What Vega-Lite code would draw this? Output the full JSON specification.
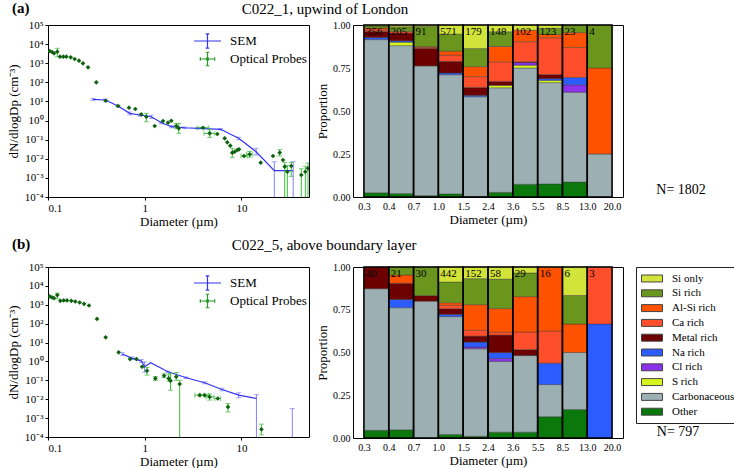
{
  "$schema": "https://vega.github.io/schema/vega-lite/v6.json",
  "padding": {"left": 6, "top": 0, "right": 0, "bottom": 0},
  "config": {
    "font": "Liberation Serif",
    "view": {"stroke": "black", "strokeWidth": 1},
    "title": {"font": "Liberation Serif", "fontSize": 15, "fontWeight": "normal", "color": "black"},
    "legend": {"labelFont": "Liberation Serif"}
  },
  "datasets": {
    "semA": [
      {"x": 0.292, "y": 12.9, "ylo": 11.5, "yhi": 14.5},
      {"x": 0.392, "y": 11.9, "ylo": 10.5, "yhi": 13.3},
      {"x": 0.529, "y": 5.77, "ylo": 5.2, "yhi": 6.4},
      {"x": 0.70, "y": 2.39, "ylo": 2.0, "yhi": 2.8},
      {"x": 0.887, "y": 1.95, "ylo": 1.7, "yhi": 2.2},
      {"x": 1.17, "y": 1.59, "ylo": 1.3, "yhi": 1.9},
      {"x": 1.49, "y": 0.77, "ylo": 0.68, "yhi": 0.86},
      {"x": 1.89, "y": 0.476, "ylo": 0.42, "yhi": 0.54},
      {"x": 2.58, "y": 0.42, "ylo": 0.38, "yhi": 0.46},
      {"x": 3.56, "y": 0.394, "ylo": 0.36, "yhi": 0.43},
      {"x": 6.1, "y": 0.348, "ylo": 0.32, "yhi": 0.38},
      {"x": 9.36, "y": 0.118, "ylo": 0.1, "yhi": 0.135},
      {"x": 14.2, "y": 0.0234, "ylo": 0.0157, "yhi": 0.0352},
      {"x": 21.9, "y": 0.00238, "ylo": 0.00005, "yhi": 0.007},
      {"x": 34.3, "y": 0.00238, "ylo": 0.00005, "yhi": 0.007}
    ],
    "optA": [
      {"x": 0.104, "y": 4360}, {"x": 0.110, "y": 3865}, {"x": 0.1154, "y": 3304},
      {"x": 0.1248, "y": 4000, "ylo": 2190, "yhi": 6040},
      {"x": 0.1331, "y": 2193}, {"x": 0.144, "y": 2193}, {"x": 0.1546, "y": 2193},
      {"x": 0.1717, "y": 2042}, {"x": 0.1888, "y": 1663}, {"x": 0.2092, "y": 1355},
      {"x": 0.230, "y": 990}, {"x": 0.2593, "y": 612}, {"x": 0.3158, "y": 100},
      {"x": 0.395, "y": 10.9}, {"x": 0.5297, "y": 5.77}, {"x": 0.688, "y": 4.70},
      {"x": 0.7995, "y": 4.02}, {"x": 0.922, "y": 2.12},
      {"x": 1.039, "y": 1.59, "ylo": 0.87, "yhi": 2.4},
      {"x": 1.269, "y": 0.519}, {"x": 1.546, "y": 0.946}, {"x": 1.742, "y": 0.771},
      {"x": 1.884, "y": 0.98},
      {"x": 2.122, "y": 0.519, "ylo": 0.38, "yhi": 0.70},
      {"x": 2.247, "y": 0.394, "ylo": 0.215, "yhi": 0.718},
      {"x": 4.008, "y": 0.42, "xlo": 3.5, "xhi": 4.6},
      {"x": 4.699, "y": 0.215, "ylo": 0.13, "yhi": 0.33, "xlo": 4.1, "xhi": 5.3},
      {"x": 5.634, "y": 0.198}, {"x": 6.72, "y": 0.118}, {"x": 7.147, "y": 0.0728},
      {"x": 7.674, "y": 0.0483},
      {"x": 8.05, "y": 0.0208, "ylo": 0.0118, "yhi": 0.0352},
      {"x": 8.53, "y": 0.0234}, {"x": 9.07, "y": 0.0288}, {"x": 9.44, "y": 0.0313},
      {"x": 10.64, "y": 0.01396, "xlo": 9.9, "xhi": 11.5},
      {"x": 12.19, "y": 0.01714, "xlo": 11.3, "xhi": 13.1, "ylo": 0.012, "yhi": 0.024},
      {"x": 15.83, "y": 0.00622}, {"x": 21.23, "y": 0.01396},
      {"x": 24.9, "y": 0.0208, "ylo": 0.014, "yhi": 0.03},
      {"x": 26.9, "y": 0.00863},
      {"x": 28.05, "y": 0.00385, "ylo": 0.00005, "yhi": 0.0065},
      {"x": 29.85, "y": 0.0021, "ylo": 0.00005, "yhi": 0.0045},
      {"x": 32.8, "y": 0.00419, "ylo": 0.0012, "yhi": 0.0065},
      {"x": 41.6, "y": 0.00142, "ylo": 0.00005, "yhi": 0.003},
      {"x": 45.8, "y": 0.0021, "ylo": 0.00005, "yhi": 0.004},
      {"x": 48.8, "y": 0.00317, "ylo": 0.00005, "yhi": 0.006}
    ],
    "semB": [
      {"x": 0.586, "y": 2.47, "ylo": 2.1, "yhi": 2.9},
      {"x": 0.745, "y": 1.46, "ylo": 1.25, "yhi": 1.7},
      {"x": 0.922, "y": 1.05, "ylo": 0.9, "yhi": 1.25},
      {"x": 0.998, "y": 0.525, "ylo": 0.27, "yhi": 0.95},
      {"x": 1.153, "y": 0.857},
      {"x": 1.74, "y": 0.284, "ylo": 0.26, "yhi": 0.31},
      {"x": 2.69, "y": 0.1366, "ylo": 0.125, "yhi": 0.15},
      {"x": 4.17, "y": 0.0741, "ylo": 0.066, "yhi": 0.083},
      {"x": 6.30, "y": 0.0328, "ylo": 0.028, "yhi": 0.038},
      {"x": 9.38, "y": 0.0164, "ylo": 0.012, "yhi": 0.022},
      {"x": 14.3, "y": 0.0109, "ylo": 0.00005, "yhi": 0.0176},
      {"x": 33.6, "ylo": 0.00005, "yhi": 0.0032}
    ],
    "optB": [
      {"x": 0.104, "y": 2760}, {"x": 0.110, "y": 2443}, {"x": 0.1154, "y": 2250},
      {"x": 0.1248, "y": 3250, "ylo": 2075, "yhi": 4150},
      {"x": 0.134, "y": 1626}, {"x": 0.1453, "y": 1692}, {"x": 0.1572, "y": 1692},
      {"x": 0.1742, "y": 1626}, {"x": 0.1915, "y": 1496}, {"x": 0.2126, "y": 1324},
      {"x": 0.2357, "y": 1125}, {"x": 0.2655, "y": 917}, {"x": 0.3212, "y": 179},
      {"x": 0.3947, "y": 19.0}, {"x": 0.5377, "y": 3.03}, {"x": 0.7056, "y": 1.34},
      {"x": 0.8214, "y": 1.34}, {"x": 0.939, "y": 0.525},
      {"x": 1.057, "y": 0.322, "ylo": 0.19, "yhi": 0.48},
      {"x": 1.289, "y": 0.126, "ylo": 0.10, "yhi": 0.16},
      {"x": 1.585, "y": 0.175, "ylo": 0.14, "yhi": 0.22},
      {"x": 1.77, "y": 0.126, "ylo": 0.09, "yhi": 0.2},
      {"x": 1.85, "y": 0.0946, "ylo": 0.03, "yhi": 0.23},
      {"x": 2.12, "y": 0.155, "ylo": 0.1, "yhi": 0.26},
      {"x": 2.30, "y": 0.063, "ylo": 0.00005, "yhi": 0.1},
      {"x": 3.70, "y": 0.0164, "xlo": 3.3, "xhi": 4.1},
      {"x": 4.17, "y": 0.0164, "xlo": 3.8, "xhi": 4.6},
      {"x": 4.69, "y": 0.0133, "ylo": 0.009, "yhi": 0.019, "xlo": 4.3, "xhi": 5.2},
      {"x": 5.70, "y": 0.0109, "xlo": 5.3, "xhi": 6.1},
      {"x": 7.26, "y": 0.0039, "ylo": 0.0021, "yhi": 0.0059},
      {"x": 16.1, "y": 0.000255, "ylo": 0.00013, "yhi": 0.00048}
    ],
    "barsA": [
      {"lo": 0.3, "hi": 0.4, "cat": "Other", "p": 0.025}, {"lo": 0.3, "hi": 0.4, "cat": "Carbonaceous", "p": 0.89}, {"lo": 0.3, "hi": 0.4, "cat": "Na rich", "p": 0.012}, {"lo": 0.3, "hi": 0.4, "cat": "Metal rich", "p": 0.035}, {"lo": 0.3, "hi": 0.4, "cat": "Ca rich", "p": 0.01}, {"lo": 0.3, "hi": 0.4, "cat": "Al-Si rich", "p": 0.01}, {"lo": 0.3, "hi": 0.4, "cat": "Si rich", "p": 0.012}, {"lo": 0.3, "hi": 0.4, "cat": "Si only", "p": 0.006},
      {"lo": 0.4, "hi": 0.7, "cat": "Other", "p": 0.02}, {"lo": 0.4, "hi": 0.7, "cat": "Carbonaceous", "p": 0.86}, {"lo": 0.4, "hi": 0.7, "cat": "S rich", "p": 0.02}, {"lo": 0.4, "hi": 0.7, "cat": "Na rich", "p": 0.008}, {"lo": 0.4, "hi": 0.7, "cat": "Metal rich", "p": 0.045}, {"lo": 0.4, "hi": 0.7, "cat": "Ca rich", "p": 0.01}, {"lo": 0.4, "hi": 0.7, "cat": "Si rich", "p": 0.027}, {"lo": 0.4, "hi": 0.7, "cat": "Si only", "p": 0.01},
      {"lo": 0.7, "hi": 1, "cat": "Other", "p": 0.008}, {"lo": 0.7, "hi": 1, "cat": "Carbonaceous", "p": 0.754}, {"lo": 0.7, "hi": 1, "cat": "Metal rich", "p": 0.102}, {"lo": 0.7, "hi": 1, "cat": "Ca rich", "p": 0.005}, {"lo": 0.7, "hi": 1, "cat": "Al-Si rich", "p": 0.006}, {"lo": 0.7, "hi": 1, "cat": "Si rich", "p": 0.117}, {"lo": 0.7, "hi": 1, "cat": "Si only", "p": 0.008},
      {"lo": 1, "hi": 1.5, "cat": "Other", "p": 0.018}, {"lo": 1, "hi": 1.5, "cat": "Carbonaceous", "p": 0.693}, {"lo": 1, "hi": 1.5, "cat": "Na rich", "p": 0.01}, {"lo": 1, "hi": 1.5, "cat": "Metal rich", "p": 0.068}, {"lo": 1, "hi": 1.5, "cat": "Ca rich", "p": 0.036}, {"lo": 1, "hi": 1.5, "cat": "Al-Si rich", "p": 0.023}, {"lo": 1, "hi": 1.5, "cat": "Si rich", "p": 0.099}, {"lo": 1, "hi": 1.5, "cat": "Si only", "p": 0.053},
      {"lo": 1.5, "hi": 2.4, "cat": "Other", "p": 0.003}, {"lo": 1.5, "hi": 2.4, "cat": "Carbonaceous", "p": 0.58}, {"lo": 1.5, "hi": 2.4, "cat": "Na rich", "p": 0.008}, {"lo": 1.5, "hi": 2.4, "cat": "Metal rich", "p": 0.046}, {"lo": 1.5, "hi": 2.4, "cat": "Ca rich", "p": 0.063}, {"lo": 1.5, "hi": 2.4, "cat": "Al-Si rich", "p": 0.058}, {"lo": 1.5, "hi": 2.4, "cat": "Si rich", "p": 0.105}, {"lo": 1.5, "hi": 2.4, "cat": "Si only", "p": 0.137},
      {"lo": 2.4, "hi": 3.6, "cat": "Other", "p": 0.027}, {"lo": 2.4, "hi": 3.6, "cat": "Carbonaceous", "p": 0.608}, {"lo": 2.4, "hi": 3.6, "cat": "S rich", "p": 0.014}, {"lo": 2.4, "hi": 3.6, "cat": "Metal rich", "p": 0.023}, {"lo": 2.4, "hi": 3.6, "cat": "Ca rich", "p": 0.114}, {"lo": 2.4, "hi": 3.6, "cat": "Al-Si rich", "p": 0.089}, {"lo": 2.4, "hi": 3.6, "cat": "Si rich", "p": 0.086}, {"lo": 2.4, "hi": 3.6, "cat": "Si only", "p": 0.039},
      {"lo": 3.6, "hi": 5.5, "cat": "Other", "p": 0.074}, {"lo": 3.6, "hi": 5.5, "cat": "Carbonaceous", "p": 0.676}, {"lo": 3.6, "hi": 5.5, "cat": "S rich", "p": 0.016}, {"lo": 3.6, "hi": 5.5, "cat": "Cl rich", "p": 0.016}, {"lo": 3.6, "hi": 5.5, "cat": "Metal rich", "p": 0.004}, {"lo": 3.6, "hi": 5.5, "cat": "Ca rich", "p": 0.117}, {"lo": 3.6, "hi": 5.5, "cat": "Al-Si rich", "p": 0.067}, {"lo": 3.6, "hi": 5.5, "cat": "Si only", "p": 0.03},
      {"lo": 5.5, "hi": 8.5, "cat": "Other", "p": 0.076}, {"lo": 5.5, "hi": 8.5, "cat": "Carbonaceous", "p": 0.589}, {"lo": 5.5, "hi": 8.5, "cat": "S rich", "p": 0.013}, {"lo": 5.5, "hi": 8.5, "cat": "Na rich", "p": 0.01}, {"lo": 5.5, "hi": 8.5, "cat": "Metal rich", "p": 0.024}, {"lo": 5.5, "hi": 8.5, "cat": "Ca rich", "p": 0.214}, {"lo": 5.5, "hi": 8.5, "cat": "Al-Si rich", "p": 0.019}, {"lo": 5.5, "hi": 8.5, "cat": "Si rich", "p": 0.036}, {"lo": 5.5, "hi": 8.5, "cat": "Si only", "p": 0.019},
      {"lo": 8.5, "hi": 13, "cat": "Other", "p": 0.087}, {"lo": 8.5, "hi": 13, "cat": "Carbonaceous", "p": 0.522}, {"lo": 8.5, "hi": 13, "cat": "Cl rich", "p": 0.043}, {"lo": 8.5, "hi": 13, "cat": "Na rich", "p": 0.043}, {"lo": 8.5, "hi": 13, "cat": "Ca rich", "p": 0.174}, {"lo": 8.5, "hi": 13, "cat": "Al-Si rich", "p": 0.087}, {"lo": 8.5, "hi": 13, "cat": "Si rich", "p": 0.044},
      {"lo": 13, "hi": 20, "cat": "Carbonaceous", "p": 0.25}, {"lo": 13, "hi": 20, "cat": "Al-Si rich", "p": 0.5}, {"lo": 13, "hi": 20, "cat": "Si rich", "p": 0.25}
    ],
    "barsB": [
      {"lo": 0.3, "hi": 0.4, "cat": "Other", "p": 0.045}, {"lo": 0.3, "hi": 0.4, "cat": "Carbonaceous", "p": 0.828}, {"lo": 0.3, "hi": 0.4, "cat": "Metal rich", "p": 0.127},
      {"lo": 0.4, "hi": 0.7, "cat": "Other", "p": 0.048}, {"lo": 0.4, "hi": 0.7, "cat": "Carbonaceous", "p": 0.714}, {"lo": 0.4, "hi": 0.7, "cat": "Na rich", "p": 0.048}, {"lo": 0.4, "hi": 0.7, "cat": "Metal rich", "p": 0.095}, {"lo": 0.4, "hi": 0.7, "cat": "Al-Si rich", "p": 0.048}, {"lo": 0.4, "hi": 0.7, "cat": "Si rich", "p": 0.047},
      {"lo": 0.7, "hi": 1, "cat": "Carbonaceous", "p": 0.8}, {"lo": 0.7, "hi": 1, "cat": "Metal rich", "p": 0.033}, {"lo": 0.7, "hi": 1, "cat": "Si rich", "p": 0.167},
      {"lo": 1, "hi": 1.5, "cat": "Other", "p": 0.021}, {"lo": 1, "hi": 1.5, "cat": "Carbonaceous", "p": 0.689}, {"lo": 1, "hi": 1.5, "cat": "Na rich", "p": 0.013}, {"lo": 1, "hi": 1.5, "cat": "Metal rich", "p": 0.033}, {"lo": 1, "hi": 1.5, "cat": "Ca rich", "p": 0.02}, {"lo": 1, "hi": 1.5, "cat": "Al-Si rich", "p": 0.015}, {"lo": 1, "hi": 1.5, "cat": "Si rich", "p": 0.121}, {"lo": 1, "hi": 1.5, "cat": "Si only", "p": 0.088},
      {"lo": 1.5, "hi": 2.4, "cat": "Other", "p": 0.01}, {"lo": 1.5, "hi": 2.4, "cat": "Carbonaceous", "p": 0.512}, {"lo": 1.5, "hi": 2.4, "cat": "Cl rich", "p": 0.01}, {"lo": 1.5, "hi": 2.4, "cat": "Na rich", "p": 0.029}, {"lo": 1.5, "hi": 2.4, "cat": "Metal rich", "p": 0.035}, {"lo": 1.5, "hi": 2.4, "cat": "Ca rich", "p": 0.034}, {"lo": 1.5, "hi": 2.4, "cat": "Al-Si rich", "p": 0.15}, {"lo": 1.5, "hi": 2.4, "cat": "Si rich", "p": 0.152}, {"lo": 1.5, "hi": 2.4, "cat": "Si only", "p": 0.068},
      {"lo": 2.4, "hi": 3.6, "cat": "Other", "p": 0.034}, {"lo": 2.4, "hi": 3.6, "cat": "Carbonaceous", "p": 0.414}, {"lo": 2.4, "hi": 3.6, "cat": "Cl rich", "p": 0.017}, {"lo": 2.4, "hi": 3.6, "cat": "Na rich", "p": 0.034}, {"lo": 2.4, "hi": 3.6, "cat": "Metal rich", "p": 0.103}, {"lo": 2.4, "hi": 3.6, "cat": "Ca rich", "p": 0.017}, {"lo": 2.4, "hi": 3.6, "cat": "Al-Si rich", "p": 0.138}, {"lo": 2.4, "hi": 3.6, "cat": "Si rich", "p": 0.172}, {"lo": 2.4, "hi": 3.6, "cat": "Si only", "p": 0.071},
      {"lo": 3.6, "hi": 5.5, "cat": "Other", "p": 0.034}, {"lo": 3.6, "hi": 5.5, "cat": "Carbonaceous", "p": 0.448}, {"lo": 3.6, "hi": 5.5, "cat": "Metal rich", "p": 0.035}, {"lo": 3.6, "hi": 5.5, "cat": "Ca rich", "p": 0.103}, {"lo": 3.6, "hi": 5.5, "cat": "Al-Si rich", "p": 0.207}, {"lo": 3.6, "hi": 5.5, "cat": "Si rich", "p": 0.138}, {"lo": 3.6, "hi": 5.5, "cat": "Si only", "p": 0.035},
      {"lo": 5.5, "hi": 8.5, "cat": "Other", "p": 0.125}, {"lo": 5.5, "hi": 8.5, "cat": "Carbonaceous", "p": 0.1875}, {"lo": 5.5, "hi": 8.5, "cat": "Na rich", "p": 0.125}, {"lo": 5.5, "hi": 8.5, "cat": "Ca rich", "p": 0.1875}, {"lo": 5.5, "hi": 8.5, "cat": "Al-Si rich", "p": 0.375},
      {"lo": 8.5, "hi": 13, "cat": "Other", "p": 0.1667}, {"lo": 8.5, "hi": 13, "cat": "Carbonaceous", "p": 0.3333}, {"lo": 8.5, "hi": 13, "cat": "Al-Si rich", "p": 0.1667}, {"lo": 8.5, "hi": 13, "cat": "Si rich", "p": 0.1667}, {"lo": 8.5, "hi": 13, "cat": "Si only", "p": 0.1666},
      {"lo": 13, "hi": 20, "cat": "Na rich", "p": 0.6667}, {"lo": 13, "hi": 20, "cat": "Ca rich", "p": 0.3333}
    ],
    "countsA": [
      {"lo": 0.3, "hi": 0.4, "n": 356}, {"lo": 0.4, "hi": 0.7, "n": 205}, {"lo": 0.7, "hi": 1, "n": 91}, {"lo": 1, "hi": 1.5, "n": 571}, {"lo": 1.5, "hi": 2.4, "n": 179},
      {"lo": 2.4, "hi": 3.6, "n": 148}, {"lo": 3.6, "hi": 5.5, "n": 102}, {"lo": 5.5, "hi": 8.5, "n": 123}, {"lo": 8.5, "hi": 13, "n": 23}, {"lo": 13, "hi": 20, "n": 4}
    ],
    "countsB": [
      {"lo": 0.3, "hi": 0.4, "n": 40}, {"lo": 0.4, "hi": 0.7, "n": 21}, {"lo": 0.7, "hi": 1, "n": 30}, {"lo": 1, "hi": 1.5, "n": 442}, {"lo": 1.5, "hi": 2.4, "n": 152},
      {"lo": 2.4, "hi": 3.6, "n": 58}, {"lo": 3.6, "hi": 5.5, "n": 29}, {"lo": 5.5, "hi": 8.5, "n": 16}, {"lo": 8.5, "hi": 13, "n": 6}, {"lo": 13, "hi": 20, "n": 3}
    ],
    "series": [{"s": "SEM"}, {"s": "Optical Probes"}]
  },
  "spacing": 7,
  "resolve": {"scale": {"color": "independent", "shape": "independent"}, "legend": {"color": "independent", "shape": "independent"}},
  "vconcat": [
    {
      "title": {"text": "C022_1, upwind of London", "anchor": "start", "frame": "bounds", "dx": 235, "offset": -16},
      "spacing": 6,
      "resolve": {"scale": {"color": "independent", "shape": "independent"}, "legend": {"color": "independent", "shape": "independent"}},
      "hconcat": [
        {
          "width": 261, "height": 172,
          "title": {"text": "(a)", "anchor": "start", "frame": "group", "dx": -36, "fontWeight": "bold", "offset": 3},
          "encoding": {
            "x": {"field": "x", "type": "quantitative", "scale": {"type": "log", "domain": [0.1, 50], "nice": false},
                  "axis": {"values": [0.1, 1, 10], "labelExpr": "datum.value < 0.5 ? '0.1' : format(datum.value, 'd')", "title": "Diameter (µm)", "titlePadding": 2, "grid": false, "domain": false, "tickSize": 3, "tickColor": "black", "labelFont": "Liberation Serif", "labelFontSize": 11, "labelColor": "black", "labelPadding": 2, "titleFont": "Liberation Serif", "titleFontSize": 13, "titleFontWeight": "normal", "titleColor": "black"}},
            "y": {"field": "y", "type": "quantitative", "scale": {"type": "log", "domain": [0.0001, 100000], "nice": false},
                  "axis": {"values": [0.0001, 0.001, 0.01, 0.1, 1, 10, 100, 1000, 10000, 100000], "labelExpr": "['10⁻⁴','10⁻³','10⁻²','10⁻¹','10⁰','10¹','10²','10³','10⁴','10⁵'][round(log(datum.value)/LN10)+4]", "title": "dN/dlogDp (cm⁻³)", "titlePadding": 4, "grid": false, "domain": false, "tickSize": 3, "tickColor": "black", "labelFont": "Liberation Serif", "labelFontSize": 11, "labelColor": "black", "labelPadding": 2, "titleFont": "Liberation Serif", "titleFontSize": 13, "titleFontWeight": "normal", "titleColor": "black"}}
          },
          "layer": [
            {"data": {"name": "semA"}, "transform": [{"filter": "isValid(datum.ylo)"}],
             "mark": {"type": "rule", "color": "#8080ff", "strokeWidth": 1, "clip": true},
             "encoding": {"y": {"field": "ylo", "type": "quantitative"}, "y2": {"field": "yhi"}}},
            {"data": {"name": "semA"}, "transform": [{"filter": "isValid(datum.ylo)"}, {"fold": ["ylo", "yhi"], "as": ["end", "v"]}],
             "mark": {"type": "tick", "orient": "horizontal", "size": 5, "thickness": 1, "color": "#8080ff", "clip": true},
             "encoding": {"y": {"field": "v", "type": "quantitative"}}},
            {"data": {"name": "semA"}, "mark": {"type": "line", "color": "#3333f0", "strokeWidth": 1.2, "clip": true}},
            {"data": {"name": "optA"}, "transform": [{"filter": "isValid(datum.ylo)"}],
             "mark": {"type": "rule", "color": "#3dbb3d", "strokeWidth": 1, "clip": true},
             "encoding": {"y": {"field": "ylo", "type": "quantitative"}, "y2": {"field": "yhi"}}},
            {"data": {"name": "optA"}, "transform": [{"filter": "isValid(datum.ylo)"}, {"fold": ["ylo", "yhi"], "as": ["end", "v"]}],
             "mark": {"type": "tick", "orient": "horizontal", "size": 5, "thickness": 1, "color": "#3dbb3d", "clip": true},
             "encoding": {"y": {"field": "v", "type": "quantitative"}}},
            {"data": {"name": "optA"}, "transform": [{"filter": "isValid(datum.xlo)"}],
             "mark": {"type": "rule", "color": "#3dbb3d", "strokeWidth": 1, "clip": true},
             "encoding": {"x": {"field": "xlo", "type": "quantitative"}, "x2": {"field": "xhi"}}},
            {"data": {"name": "optA"}, "transform": [{"filter": "isValid(datum.xlo)"}, {"fold": ["xlo", "xhi"], "as": ["end", "v"]}],
             "mark": {"type": "tick", "orient": "vertical", "size": 5, "thickness": 1, "color": "#3dbb3d", "clip": true},
             "encoding": {"x": {"field": "v", "type": "quantitative"}}},
            {"data": {"name": "optA"}, "mark": {"type": "point", "shape": "diamond", "filled": true, "size": 22, "color": "#0e620e", "opacity": 1, "clip": true}},
            {"data": {"name": "series"}, "mark": {"type": "point", "opacity": 0},
             "encoding": {
               "color": {"field": "s", "type": "nominal", "scale": {"domain": ["SEM", "Optical Probes"], "range": ["#3333f0", "#2a9a2a"]},
                         "legend": {"orient": "none", "legendX": 145, "legendY": 8, "title": null, "symbolSize": 324, "symbolStrokeWidth": 1.2, "symbolOpacity": 1, "labelFontSize": 13, "labelOffset": 17, "padding": 0, "clipHeight": 16, "rowPadding": 2}},
               "shape": {"field": "s", "type": "nominal", "scale": {"domain": ["SEM", "Optical Probes"], "range": ["M-1,0L2,0M0.5,-0.8L0.5,0.8M0.3,-0.8L0.7,-0.8M0.3,0.8L0.7,0.8", "M-0.3,0L1.3,0M0.5,-0.75L0.5,0.75M0.3,-0.75L0.7,-0.75M0.3,0.75L0.7,0.75M-0.3,-0.2L-0.3,0.2M1.3,-0.2L1.3,0.2M0.4,-0.1L0.6,-0.1L0.6,0.1L0.4,0.1Z"]},
                         "legend": {"orient": "none", "legendX": 145, "legendY": 8, "title": null, "symbolSize": 324, "symbolStrokeWidth": 1.2, "symbolOpacity": 1, "labelFontSize": 13, "labelOffset": 17, "padding": 0, "clipHeight": 16, "rowPadding": 2}}}}
          ]
        },
        {
          "width": 270, "height": 172,
          "title": {"text": " ", "anchor": "start", "frame": "group", "offset": 3},
          "layer": [
            {
              "encoding": {
                "x": {"field": "lo", "type": "ordinal", "scale": {"type": "point", "domain": [0.3, 0.4, 0.7, 1, 1.5, 2.4, 3.6, 5.5, 8.5, 13, 20], "padding": 0.44},
                      "axis": {"labelExpr": "format(datum.value, '.1f')", "labelAngle": 0, "title": "Diameter (µm)", "ticks": false, "domain": false, "grid": false, "labelFont": "Liberation Serif", "labelFontSize": 10, "labelColor": "black", "labelPadding": 4, "titlePadding": 2, "titleFont": "Liberation Serif", "titleFontSize": 13, "titleFontWeight": "normal", "titleColor": "black"}},
                "x2": {"field": "hi"}
              },
              "layer": [
                {"data": {"name": "barsA"},
                 "transform": [{"calculate": "indexof(['Si only','Si rich','Al-Si rich','Ca rich','Metal rich','Na rich','Cl rich','S rich','Carbonaceous','Other'], datum.cat)", "as": "k"},
                               {"stack": "p", "groupby": ["lo"], "sort": [{"field": "k", "order": "descending"}], "as": ["y0", "y1"]}],
                 "mark": {"type": "rect", "stroke": "#333333", "strokeWidth": 0.4},
                 "encoding": {
                   "y": {"field": "y0", "type": "quantitative", "scale": {"domain": [0, 1], "nice": false},
                         "axis": {"values": [0, 0.25, 0.5, 0.75, 1], "format": ".2f", "title": "Proportion", "grid": false, "domain": false, "ticks": false, "labelFont": "Liberation Serif", "labelFontSize": 10, "labelColor": "black", "labelPadding": 3, "titlePadding": 3, "titleFont": "Liberation Serif", "titleFontSize": 13, "titleFontWeight": "normal", "titleColor": "black"}},
                   "y2": {"field": "y1"},
                   "color": {"field": "cat", "type": "nominal", "scale": {"domain": ["Si only", "Si rich", "Al-Si rich", "Ca rich", "Metal rich", "Na rich", "Cl rich", "S rich", "Carbonaceous", "Other"], "range": ["#d2e43a", "#6b961e", "#ff5200", "#ff4e2c", "#6c0000", "#2c5cff", "#8a33ea", "#d6f51c", "#9cb0b3", "#0a780a"]}, "legend": null}}},
                {"data": {"name": "countsA"}, "mark": {"type": "rect", "fillOpacity": 0, "stroke": "black", "strokeWidth": 1.5},
                 "encoding": {"y": {"datum": 0, "type": "quantitative"}, "y2": {"datum": 1}}},
                {"data": {"name": "countsA"}, "mark": {"type": "text", "align": "left", "baseline": "top", "dx": 2, "dy": 1, "fontSize": 11, "font": "Liberation Serif", "color": "black"},
                 "encoding": {"y": {"datum": 1, "type": "quantitative"}, "text": {"field": "n", "type": "quantitative"}}}
              ]
            },
            {"data": {"name": "countsA"},
             "transform": [{"aggregate": [{"op": "sum", "field": "n", "as": "total"}]}, {"calculate": "'N= ' + datum.total", "as": "label"}],
             "mark": {"type": "text", "fontSize": 14, "align": "center", "baseline": "middle", "font": "Liberation Serif", "color": "black"},
             "encoding": {"x": {"datum": 1.215, "type": "quantitative", "scale": {"domain": [0, 1], "nice": false, "zero": false}, "axis": null},
                          "y": {"datum": 0.04, "type": "quantitative", "scale": {"domain": [0, 1], "nice": false, "zero": false}, "axis": null},
                          "text": {"field": "label", "type": "nominal"}}}
          ],
          "resolve": {"scale": {"x": "independent", "y": "independent"}, "axis": {"x": "independent", "y": "independent"}}
        }
      ]
    },
    {
      "title": {"text": "C022_5, above boundary layer", "anchor": "start", "frame": "bounds", "dx": 225, "offset": -16},
      "spacing": 6,
      "resolve": {"scale": {"color": "independent", "shape": "independent"}, "legend": {"color": "independent", "shape": "independent"}},
      "hconcat": [
        {
          "width": 261, "height": 170,
          "title": {"text": "(b)", "anchor": "start", "frame": "group", "dx": -36, "fontWeight": "bold", "offset": 9},
          "encoding": {
            "x": {"field": "x", "type": "quantitative", "scale": {"type": "log", "domain": [0.1, 50], "nice": false},
                  "axis": {"values": [0.1, 1, 10], "labelExpr": "datum.value < 0.5 ? '0.1' : format(datum.value, 'd')", "title": "Diameter (µm)", "titlePadding": 2, "grid": false, "domain": false, "tickSize": 3, "tickColor": "black", "labelFont": "Liberation Serif", "labelFontSize": 11, "labelColor": "black", "labelPadding": 2, "titleFont": "Liberation Serif", "titleFontSize": 13, "titleFontWeight": "normal", "titleColor": "black"}},
            "y": {"field": "y", "type": "quantitative", "scale": {"type": "log", "domain": [0.0001, 100000], "nice": false},
                  "axis": {"values": [0.0001, 0.001, 0.01, 0.1, 1, 10, 100, 1000, 10000, 100000], "labelExpr": "['10⁻⁴','10⁻³','10⁻²','10⁻¹','10⁰','10¹','10²','10³','10⁴','10⁵'][round(log(datum.value)/LN10)+4]", "title": "dN/dlogDp (cm⁻³)", "titlePadding": 4, "grid": false, "domain": false, "tickSize": 3, "tickColor": "black", "labelFont": "Liberation Serif", "labelFontSize": 11, "labelColor": "black", "labelPadding": 2, "titleFont": "Liberation Serif", "titleFontSize": 13, "titleFontWeight": "normal", "titleColor": "black"}}
          },
          "layer": [
            {"data": {"name": "semB"}, "transform": [{"filter": "isValid(datum.ylo)"}],
             "mark": {"type": "rule", "color": "#8080ff", "strokeWidth": 1, "clip": true},
             "encoding": {"y": {"field": "ylo", "type": "quantitative"}, "y2": {"field": "yhi"}}},
            {"data": {"name": "semB"}, "transform": [{"filter": "isValid(datum.ylo)"}, {"fold": ["ylo", "yhi"], "as": ["end", "v"]}],
             "mark": {"type": "tick", "orient": "horizontal", "size": 5, "thickness": 1, "color": "#8080ff", "clip": true},
             "encoding": {"y": {"field": "v", "type": "quantitative"}}},
            {"data": {"name": "semB"}, "mark": {"type": "line", "color": "#3333f0", "strokeWidth": 1.2, "clip": true}},
            {"data": {"name": "optB"}, "transform": [{"filter": "isValid(datum.ylo)"}],
             "mark": {"type": "rule", "color": "#3dbb3d", "strokeWidth": 1, "clip": true},
             "encoding": {"y": {"field": "ylo", "type": "quantitative"}, "y2": {"field": "yhi"}}},
            {"data": {"name": "optB"}, "transform": [{"filter": "isValid(datum.ylo)"}, {"fold": ["ylo", "yhi"], "as": ["end", "v"]}],
             "mark": {"type": "tick", "orient": "horizontal", "size": 5, "thickness": 1, "color": "#3dbb3d", "clip": true},
             "encoding": {"y": {"field": "v", "type": "quantitative"}}},
            {"data": {"name": "optB"}, "transform": [{"filter": "isValid(datum.xlo)"}],
             "mark": {"type": "rule", "color": "#3dbb3d", "strokeWidth": 1, "clip": true},
             "encoding": {"x": {"field": "xlo", "type": "quantitative"}, "x2": {"field": "xhi"}}},
            {"data": {"name": "optB"}, "transform": [{"filter": "isValid(datum.xlo)"}, {"fold": ["xlo", "xhi"], "as": ["end", "v"]}],
             "mark": {"type": "tick", "orient": "vertical", "size": 5, "thickness": 1, "color": "#3dbb3d", "clip": true},
             "encoding": {"x": {"field": "v", "type": "quantitative"}}},
            {"data": {"name": "optB"}, "mark": {"type": "point", "shape": "diamond", "filled": true, "size": 22, "color": "#0e620e", "opacity": 1, "clip": true}},
            {"data": {"name": "series"}, "mark": {"type": "point", "opacity": 0},
             "encoding": {
               "color": {"field": "s", "type": "nominal", "scale": {"domain": ["SEM", "Optical Probes"], "range": ["#3333f0", "#2a9a2a"]},
                         "legend": {"orient": "none", "legendX": 145, "legendY": 8, "title": null, "symbolSize": 324, "symbolStrokeWidth": 1.2, "symbolOpacity": 1, "labelFontSize": 13, "labelOffset": 17, "padding": 0, "clipHeight": 16, "rowPadding": 2}},
               "shape": {"field": "s", "type": "nominal", "scale": {"domain": ["SEM", "Optical Probes"], "range": ["M-1,0L2,0M0.5,-0.8L0.5,0.8M0.3,-0.8L0.7,-0.8M0.3,0.8L0.7,0.8", "M-0.3,0L1.3,0M0.5,-0.75L0.5,0.75M0.3,-0.75L0.7,-0.75M0.3,0.75L0.7,0.75M-0.3,-0.2L-0.3,0.2M1.3,-0.2L1.3,0.2M0.4,-0.1L0.6,-0.1L0.6,0.1L0.4,0.1Z"]},
                         "legend": {"orient": "none", "legendX": 145, "legendY": 8, "title": null, "symbolSize": 324, "symbolStrokeWidth": 1.2, "symbolOpacity": 1, "labelFontSize": 13, "labelOffset": 17, "padding": 0, "clipHeight": 16, "rowPadding": 2}}}}
          ]
        },
        {
          "width": 270, "height": 171,
          "title": {"text": " ", "anchor": "start", "frame": "group", "offset": 9},
          "layer": [
            {
              "encoding": {
                "x": {"field": "lo", "type": "ordinal", "scale": {"type": "point", "domain": [0.3, 0.4, 0.7, 1, 1.5, 2.4, 3.6, 5.5, 8.5, 13, 20], "padding": 0.44},
                      "axis": {"labelExpr": "format(datum.value, '.1f')", "labelAngle": 0, "title": "Diameter (µm)", "ticks": false, "domain": false, "grid": false, "labelFont": "Liberation Serif", "labelFontSize": 10, "labelColor": "black", "labelPadding": 4, "titlePadding": 2, "titleFont": "Liberation Serif", "titleFontSize": 13, "titleFontWeight": "normal", "titleColor": "black"}},
                "x2": {"field": "hi"}
              },
              "layer": [
                {"data": {"name": "barsB"},
                 "transform": [{"calculate": "indexof(['Si only','Si rich','Al-Si rich','Ca rich','Metal rich','Na rich','Cl rich','S rich','Carbonaceous','Other'], datum.cat)", "as": "k"},
                               {"stack": "p", "groupby": ["lo"], "sort": [{"field": "k", "order": "descending"}], "as": ["y0", "y1"]}],
                 "mark": {"type": "rect", "stroke": "#333333", "strokeWidth": 0.4},
                 "encoding": {
                   "y": {"field": "y0", "type": "quantitative", "scale": {"domain": [0, 1], "nice": false},
                         "axis": {"values": [0, 0.25, 0.5, 0.75, 1], "format": ".2f", "title": "Proportion", "grid": false, "domain": false, "ticks": false, "labelFont": "Liberation Serif", "labelFontSize": 10, "labelColor": "black", "labelPadding": 3, "titlePadding": 3, "titleFont": "Liberation Serif", "titleFontSize": 13, "titleFontWeight": "normal", "titleColor": "black"}},
                   "y2": {"field": "y1"},
                   "color": {"field": "cat", "type": "nominal", "scale": {"domain": ["Si only", "Si rich", "Al-Si rich", "Ca rich", "Metal rich", "Na rich", "Cl rich", "S rich", "Carbonaceous", "Other"], "range": ["#d2e43a", "#6b961e", "#ff5200", "#ff4e2c", "#6c0000", "#2c5cff", "#8a33ea", "#d6f51c", "#9cb0b3", "#0a780a"]},
                             "legend": {"orient": "none", "legendX": 283, "legendY": 0, "title": null, "symbolType": "M-1,-0.58L2.5,-0.58L2.5,0.58L-1,0.58Z", "symbolSize": 144, "symbolStrokeColor": "#444444", "symbolStrokeWidth": 1, "symbolOpacity": 1, "labelFontSize": 11, "labelOffset": 18, "strokeColor": "#222222", "fillColor": "white", "padding": 5, "rowPadding": 2.8}}}},
                {"data": {"name": "countsB"}, "mark": {"type": "rect", "fillOpacity": 0, "stroke": "black", "strokeWidth": 1.5},
                 "encoding": {"y": {"datum": 0, "type": "quantitative"}, "y2": {"datum": 1}}},
                {"data": {"name": "countsB"}, "mark": {"type": "text", "align": "left", "baseline": "top", "dx": 2, "dy": 1, "fontSize": 11, "font": "Liberation Serif", "color": "black"},
                 "encoding": {"y": {"datum": 1, "type": "quantitative"}, "text": {"field": "n", "type": "quantitative"}}}
              ]
            },
            {"data": {"name": "countsB"},
             "transform": [{"aggregate": [{"op": "sum", "field": "n", "as": "total"}]}, {"calculate": "'N= ' + datum.total", "as": "label"}],
             "mark": {"type": "text", "fontSize": 14, "align": "center", "baseline": "middle", "font": "Liberation Serif", "color": "black"},
             "encoding": {"x": {"datum": 1.204, "type": "quantitative", "scale": {"domain": [0, 1], "nice": false, "zero": false}, "axis": null},
                          "y": {"datum": 0.035, "type": "quantitative", "scale": {"domain": [0, 1], "nice": false, "zero": false}, "axis": null},
                          "text": {"field": "label", "type": "nominal"}}}
          ],
          "resolve": {"scale": {"x": "independent", "y": "independent"}, "axis": {"x": "independent", "y": "independent"}}
        }
      ]
    }
  ]
}
